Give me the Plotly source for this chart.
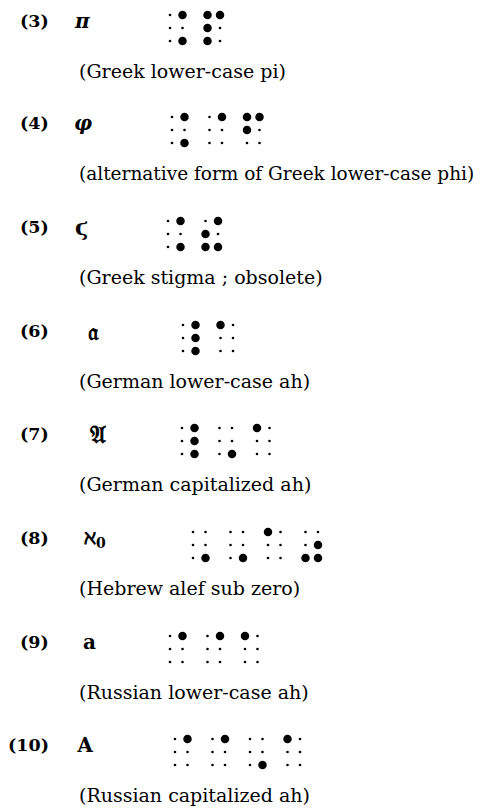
import plotly.graph_objects as go

# ---- data ----
labels = ["(3)", "(4)", "(5)", "(6)", "(7)", "(8)", "(9)", "(10)"]
symbols = ["<i>π</i>", "<i>φ</i>", "ϛ", "𝔞", "𝔄", "ℵ<sub>0</sub>", "а", "А"]
descriptions = [
    "(Greek lower-case pi)",
    "(alternative form of Greek lower-case phi)",
    "(Greek stigma ; obsolete)",
    "(German lower-case ah)",
    "(German capitalized ah)",
    "(Hebrew alef sub zero)",
    "(Russian lower-case ah)",
    "(Russian capitalized ah)",
]
# braille cells: raised dot numbers (1-2-3 left column, 4-5-6 right column)
braille = [
    [[4, 6], [1, 2, 3, 4]],
    [[4, 6], [4], [1, 2, 4]],
    [[4, 6], [2, 3, 4, 6]],
    [[4, 5, 6], [1]],
    [[4, 5, 6], [6], [1]],
    [[6], [6], [1], [3, 5, 6]],
    [[4], [4], [1]],
    [[4], [4], [6], [1]],
]

# ---- layout constants (page pixel coordinates) ----
W, H = 499, 808
PAGE_OFF = 8  # default body margin of the written html page
row_top = [15, 117, 221, 325, 428, 532, 636, 739]
cell_start = [170, 172, 168, 183, 182, 193, 170, 175]
cell_pitch = 37.5
col_gap = 12.5
row_gap = 13
label_right = 51
symbol_x = [72, 72, 73, 86, 88, 82, 81, 75]
symbol_size = [20, 20, 22, 24, 24, 20, 20, 20]
desc_x = 77
desc_dy = 56
desc_size = [19, 18.5, 19, 19, 19, 19, 19, 19]

DOT_POS = {1: (0, 0), 2: (0, 1), 3: (0, 2), 4: (1, 0), 5: (1, 1), 6: (1, 2)}

bx, by, sx, sy = [], [], [], []
for r, cells in enumerate(braille):
    for c, dots in enumerate(cells):
        for d in range(1, 7):
            col, rw = DOT_POS[d]
            x = cell_start[r] + c * cell_pitch + col * col_gap
            y = row_top[r] + rw * row_gap
            if d in dots:
                bx.append(x); by.append(y)
            else:
                sx.append(x); sy.append(y)

fig = go.Figure()
fig.add_trace(go.Scatter(x=sx, y=sy, mode="markers",
                         marker=dict(size=2.6, color="black"), hoverinfo="skip"))
fig.add_trace(go.Scatter(x=bx, y=by, mode="markers",
                         marker=dict(size=8.5, color="black"), hoverinfo="skip"))

serif = "DejaVu Serif"
for r in range(len(labels)):
    ly = row_top[r] + 6
    fig.add_annotation(x=label_right, y=ly, text="<b>" + labels[r] + "</b>",
                       xanchor="right", yanchor="middle", showarrow=False,
                       font=dict(family=serif, size=17.5, color="black"))
    fig.add_annotation(x=symbol_x[r], y=ly, text="<b>" + symbols[r] + "</b>",
                       xanchor="left", yanchor="middle", showarrow=False,
                       font=dict(family=serif, size=symbol_size[r], color="black"))
    fig.add_annotation(x=desc_x, y=row_top[r] + desc_dy, text=descriptions[r],
                       xanchor="left", yanchor="middle", showarrow=False,
                       font=dict(family=serif, size=desc_size[r], color="black"))

fig.update_layout(
    width=W - PAGE_OFF, height=H - PAGE_OFF, margin=dict(l=0, r=0, t=0, b=0),
    paper_bgcolor="white", plot_bgcolor="white", showlegend=False,
    xaxis=dict(range=[PAGE_OFF, W], visible=False, fixedrange=True),
    yaxis=dict(range=[H, PAGE_OFF], visible=False, fixedrange=True),
)
fig.write_html("out.html")
